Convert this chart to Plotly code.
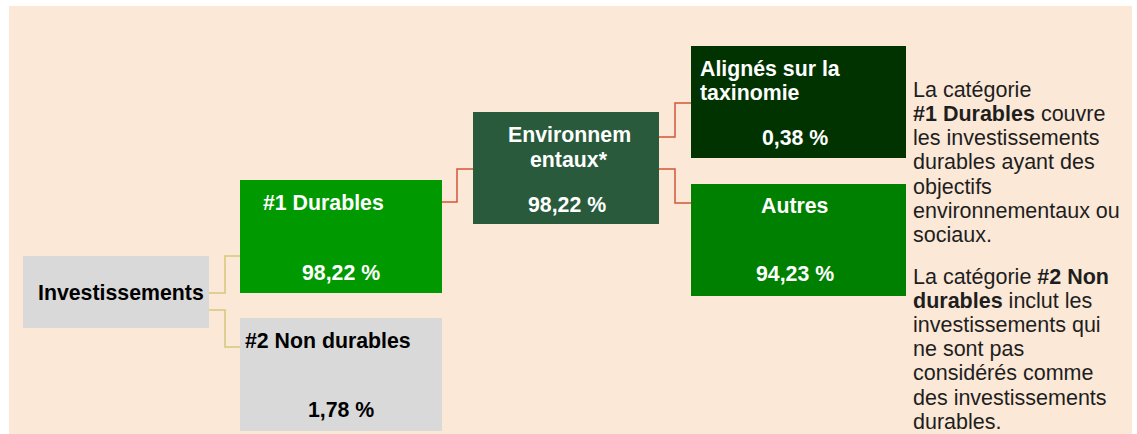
import plotly.graph_objects as go

# ---- data ----
categories = ["Investissements", "#1 Durables", "#2 Non durables",
              "Environnem<br>entaux*", "Alignés sur la<br>taxinomie", "Autres"]
values = [None, 98.22, 1.78, 98.22, 0.38, 94.23]

note_lines = [
    "La catégorie",
    "<b>#1 Durables</b> couvre",
    "les investissements",
    "durables ayant des",
    "objectifs",
    "environnementaux ou",
    "sociaux.",
    "La catégorie <b>#2 Non</b>",
    "<b>durables</b> inclut les",
    "investissements qui",
    "ne sont pas",
    "considérés comme",
    "des investissements",
    "durables.",
]

# ---- layout / style (pixel coordinates) ----
W, H = 1137, 434
BEIGE = "#FBE8D7"
boxes = [
    dict(x0=23, x1=209, y0=256, y1=328, fill="#D9D9D9", fc="black",
         lx=36, la="left", ly=[293], vx=None, vy=None),
    dict(x0=240, x1=442, y0=180, y1=293, fill="#009900", fc="white",
         lx=261, la="left", ly=[202.5], vx=341, vy=273),
    dict(x0=240, x1=442, y0=318, y1=431, fill="#D9D9D9", fc="black",
         lx=243, la="left", ly=[341], vx=341, vy=410),
    dict(x0=473, x1=659, y0=112, y1=224, fill="#285A3B", fc="white",
         lx=569, la="center", ly=[134.5, 159.5], vx=567, vy=204.5),
    dict(x0=691, x1=906, y0=46, y1=158, fill="#003300", fc="white",
         lx=698, la="left", ly=[69, 93], vx=795, vy=138),
    dict(x0=691, x1=906, y0=184, y1=296, fill="#008000", fc="white",
         lx=794, la="center", ly=[205.5], vx=795, vy=273.5),
]
connectors = [
    ([(209, 293), (225, 293), (225, 256), (240, 256)], "#D8C67C"),
    ([(209, 310), (225, 310), (225, 347), (240, 347)], "#D8C67C"),
    ([(442, 202), (457, 202), (457, 169), (473, 169)], "#D2553A"),
    ([(659, 137), (675, 137), (675, 103), (691, 103)], "#D2553A"),
    ([(659, 169), (675, 169), (675, 203), (691, 203)], "#D2553A"),
]
LINE_Y0, LINE_STEP_1 = 89.5, 24.3
LINE_Y1, LINE_STEP_2 = 277, 24.1
NOTE_X = 911
FONT = "Arial, 'Liberation Sans', Helvetica, sans-serif"
BOX_FS = 21.3
NOTE_FS = 21.5


def fmt(v):
    return f"{v:.2f}".replace(".", ",") + " %"


fig = go.Figure()
fig.add_trace(go.Scatter(x=[0, W], y=[0, H], mode="markers",
                         marker=dict(opacity=0), hoverinfo="skip", showlegend=False))

shapes = [dict(type="rect", xref="x", yref="y", x0=9, x1=1132, y0=6, y1=H,
               fillcolor=BEIGE, line=dict(width=0), layer="below")]
annotations = []

for pts, col in connectors:
    path = "M " + " L ".join(f"{x},{y}" for x, y in pts)
    shapes.append(dict(type="path", xref="x", yref="y", path=path,
                       line=dict(color=col, width=1.5), layer="below"))

for b, cat, val in zip(boxes, categories, values):
    shapes.append(dict(type="rect", xref="x", yref="y", x0=b["x0"], x1=b["x1"],
                       y0=b["y0"], y1=b["y1"], fillcolor=b["fill"],
                       line=dict(width=0), layer="above"))
    for line_txt, y in zip(cat.split("<br>"), b["ly"]):
        annotations.append(dict(x=b["lx"], y=y, xref="x", yref="y", text=f"<b>{line_txt}</b>",
                                showarrow=False, xanchor=b["la"], yanchor="middle",
                                font=dict(family=FONT, size=BOX_FS, color=b["fc"])))
    if val is not None:
        annotations.append(dict(x=b["vx"], y=b["vy"], xref="x", yref="y",
                                text=f"<b>{fmt(val)}</b>", showarrow=False,
                                xanchor="center", yanchor="middle",
                                font=dict(family=FONT, size=BOX_FS, color=b["fc"])))

for i, txt in enumerate(note_lines):
    if i < 7:
        y = LINE_Y0 + i * LINE_STEP_1
    else:
        y = LINE_Y1 + (i - 7) * LINE_STEP_2
    annotations.append(dict(x=NOTE_X, y=y, xref="x", yref="y", text=txt,
                            showarrow=False, xanchor="left", yanchor="middle",
                            font=dict(family=FONT, size=NOTE_FS, color="#1E1E1E")))

fig.update_layout(
    width=W, height=H,
    margin=dict(l=0, r=0, t=0, b=0),
    paper_bgcolor="white", plot_bgcolor="white",
    xaxis=dict(range=[0, W], visible=False, fixedrange=True),
    yaxis=dict(range=[H, 0], visible=False, fixedrange=True),
    shapes=shapes, annotations=annotations, showlegend=False,
)

fig.write_html("out.html", config=dict(displayModeBar=False),
               post_script="document.body.style.margin='0px';document.body.style.overflow='hidden';")
